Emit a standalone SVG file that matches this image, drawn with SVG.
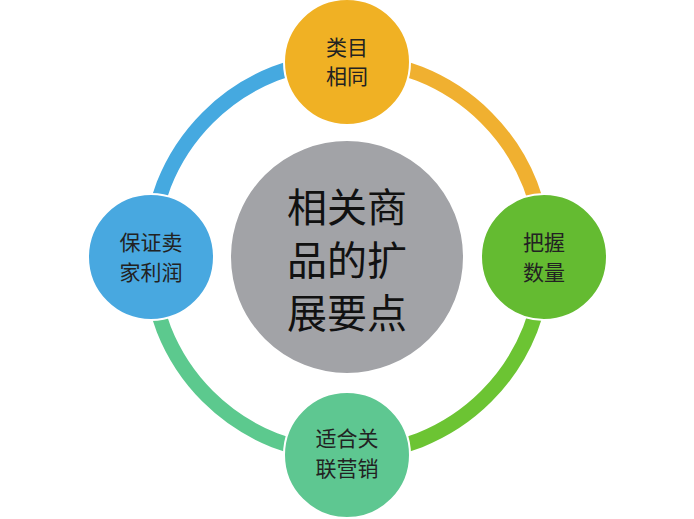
<svg xmlns="http://www.w3.org/2000/svg" width="694" height="519" viewBox="0 0 694 519">
<style>
.arc{fill:none;stroke-width:15}
.n{stroke:#fff;stroke-width:2}
text{font-family:"Noto Sans CJK SC","Noto Sans",sans-serif;text-anchor:middle;fill:#222}
.s{font-size:21px}
.c{font-size:40px;fill:#111}
</style>
<rect width="694" height="519" fill="#fff"/>
<g id="connectors">
<path class="arc" stroke="#f0b030" d="M347 60 A197 197 0 0 1 544 257"/>
<path class="arc" stroke="#6cc433" d="M544 257 A197 197 0 0 1 347 454"/>
<path class="arc" stroke="#5cc98e" d="M347 454 A197 197 0 0 1 150 257"/>
<path class="arc" stroke="#45a9e0" d="M150 257 A197 197 0 0 1 347 60"/>
</g>
<g id="center"><circle cx="347" cy="257" r="117" fill="#a2a3a7" class="n"/>
<text class="c" x="347" y="222">相关商</text><text class="c" x="347" y="275">品的扩</text><text class="c" x="347" y="328">展要点</text></g>
<g id="top"><circle cx="347" cy="62" r="63" fill="#f0b124" class="n"/>
<text class="s" x="347" y="55">类目</text><text class="s" x="347" y="84">相同</text></g>
<g id="right"><circle cx="544" cy="257" r="63" fill="#64bb31" class="n"/>
<text class="s" x="544" y="250">把握</text><text class="s" x="544" y="280">数量</text></g>
<g id="bottom"><circle cx="347" cy="455" r="63" fill="#5ec791" class="n"/>
<text class="s" x="347" y="446">适合关</text><text class="s" x="347" y="476">联营销</text></g>
<g id="left"><circle cx="151" cy="257" r="63" fill="#48a8e0" class="n"/>
<text class="s" x="151" y="250">保证卖</text><text class="s" x="151" y="280">家利润</text></g>
</svg>
